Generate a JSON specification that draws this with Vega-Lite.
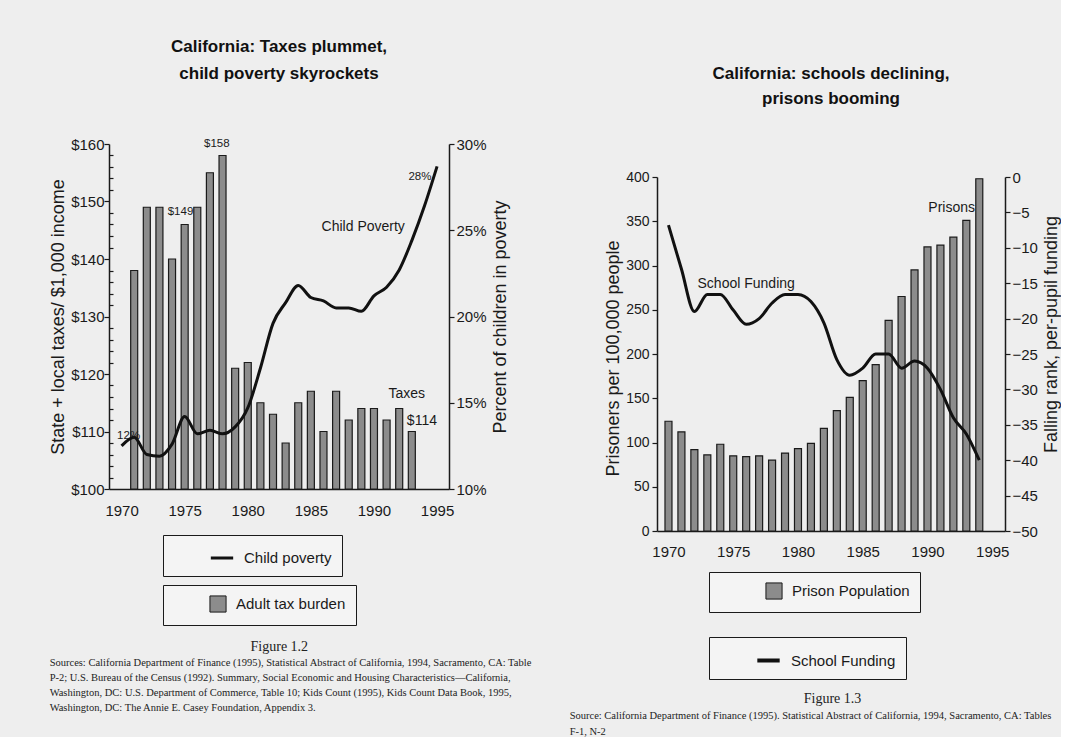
{
  "$schema": "https://vega.github.io/schema/vega-lite/v6.json",
  "background": "#eeeeee",
  "padding": {"left": 49, "top": 38, "right": 0, "bottom": 0},
  "datasets": {
    "tax": [
      {"year": 1971, "tax": 138}, {"year": 1972, "tax": 149}, {"year": 1973, "tax": 149}, {"year": 1974, "tax": 140},
      {"year": 1975, "tax": 146}, {"year": 1976, "tax": 149}, {"year": 1977, "tax": 155}, {"year": 1978, "tax": 158},
      {"year": 1979, "tax": 121}, {"year": 1980, "tax": 122}, {"year": 1981, "tax": 115}, {"year": 1982, "tax": 113},
      {"year": 1983, "tax": 108}, {"year": 1984, "tax": 115}, {"year": 1985, "tax": 117}, {"year": 1986, "tax": 110},
      {"year": 1987, "tax": 117}, {"year": 1988, "tax": 112}, {"year": 1989, "tax": 114}, {"year": 1990, "tax": 114},
      {"year": 1991, "tax": 112}, {"year": 1992, "tax": 114}, {"year": 1993, "tax": 110}
    ],
    "poverty": [
      {"year": 1970, "pct": 12.5}, {"year": 1971, "pct": 13.0}, {"year": 1972, "pct": 12.0}, {"year": 1973, "pct": 11.9},
      {"year": 1974, "pct": 12.6}, {"year": 1975, "pct": 14.2}, {"year": 1976, "pct": 13.2}, {"year": 1977, "pct": 13.4},
      {"year": 1978, "pct": 13.2}, {"year": 1979, "pct": 13.6}, {"year": 1980, "pct": 14.7}, {"year": 1981, "pct": 17.0},
      {"year": 1982, "pct": 19.6}, {"year": 1983, "pct": 20.8}, {"year": 1984, "pct": 21.8}, {"year": 1985, "pct": 21.1},
      {"year": 1986, "pct": 20.9}, {"year": 1987, "pct": 20.5}, {"year": 1988, "pct": 20.5}, {"year": 1989, "pct": 20.3},
      {"year": 1990, "pct": 21.2}, {"year": 1991, "pct": 21.7}, {"year": 1992, "pct": 22.7}, {"year": 1993, "pct": 24.4},
      {"year": 1994, "pct": 26.4}, {"year": 1995, "pct": 28.7}
    ],
    "leftSmall": [
      {"year": 1977.55, "value": 160.0, "label": "$158"},
      {"year": 1974.67, "value": 148.2, "label": "$149"},
      {"year": 1993.64, "value": 154.3, "label": "28%"},
      {"year": 1970.56, "value": 109.2, "label": "12%"}
    ],
    "leftBig": [
      {"year": 1989.15, "value": 145.6, "label": "Child Poverty"},
      {"year": 1992.6, "value": 116.5, "label": "Taxes"},
      {"year": 1993.8, "value": 111.9, "label": "$114"}
    ],
    "prison": [
      {"year": 1970, "rate": 124}, {"year": 1971, "rate": 112}, {"year": 1972, "rate": 92}, {"year": 1973, "rate": 86},
      {"year": 1974, "rate": 98}, {"year": 1975, "rate": 85}, {"year": 1976, "rate": 84}, {"year": 1977, "rate": 85},
      {"year": 1978, "rate": 80}, {"year": 1979, "rate": 88}, {"year": 1980, "rate": 93}, {"year": 1981, "rate": 99},
      {"year": 1982, "rate": 116}, {"year": 1983, "rate": 136}, {"year": 1984, "rate": 151}, {"year": 1985, "rate": 170},
      {"year": 1986, "rate": 188}, {"year": 1987, "rate": 238}, {"year": 1988, "rate": 265}, {"year": 1989, "rate": 295},
      {"year": 1990, "rate": 321}, {"year": 1991, "rate": 323}, {"year": 1992, "rate": 332}, {"year": 1993, "rate": 351},
      {"year": 1994, "rate": 398}
    ],
    "school": [
      {"year": 1970, "rank": -6.8}, {"year": 1971, "rank": -13}, {"year": 1972, "rank": -19}, {"year": 1973, "rank": -16.6},
      {"year": 1974, "rank": -16.6}, {"year": 1975, "rank": -18.8}, {"year": 1976, "rank": -20.8}, {"year": 1977, "rank": -20},
      {"year": 1978, "rank": -17.8}, {"year": 1979, "rank": -16.6}, {"year": 1980, "rank": -16.6}, {"year": 1981, "rank": -17.6},
      {"year": 1982, "rank": -20.6}, {"year": 1983, "rank": -25.8}, {"year": 1984, "rank": -28}, {"year": 1985, "rank": -27},
      {"year": 1986, "rank": -25}, {"year": 1987, "rank": -25}, {"year": 1988, "rank": -27}, {"year": 1989, "rank": -26},
      {"year": 1990, "rank": -27}, {"year": 1991, "rank": -30}, {"year": 1992, "rank": -34}, {"year": 1993, "rank": -36.3},
      {"year": 1994, "rank": -40}
    ],
    "rightNotes": [
      {"year": 1976.0, "value": 279, "label": "School Funding"},
      {"year": 1991.87, "value": 365, "label": "Prisons"}
    ]
  },
  "config": {
    "view": {"stroke": null},
    "font": "Liberation Sans, sans-serif",
    "axis": {
      "grid": false,
      "domainColor": "#1a1a1a", "domainWidth": 1.5,
      "tickColor": "#1a1a1a", "tickWidth": 1.2,
      "labelColor": "#1a1a1a", "labelFont": "Liberation Sans, sans-serif", "labelFontSize": 15,
      "titleColor": "#1a1a1a", "titleFont": "Liberation Sans, sans-serif", "titleFontSize": 18, "titleFontWeight": "normal"
    },
    "legend": {
      "fillColor": "#f4f4f4", "strokeColor": "#1a1a1a", "padding": 10,
      "labelFont": "Liberation Sans, sans-serif", "labelFontSize": 15, "labelColor": "#1a1a1a",
      "labelOffset": 9, "symbolOffset": 36
    },
    "title": {
      "font": "Liberation Sans, sans-serif", "fontSize": 17, "fontWeight": "bold",
      "color": "#111111", "lineHeight": 27, "anchor": "middle"
    }
  },
  "columns": 2,
  "spacing": 36,
  "resolve": {"scale": {"fill": "independent", "stroke": "independent"}},
  "concat": [
    {
      "title": {
        "text": [
          "Sources: California Department of Finance (1995), Statistical Abstract of California, 1994, Sacramento, CA: Table",
          "P-2; U.S. Bureau of the Census (1992). Summary, Social Economic and Housing Characteristics\u2014California,",
          "Washington, DC: U.S. Department of Commerce, Table 10; Kids Count (1995), Kids Count Data Book, 1995,",
          "Washington, DC: The Annie E. Casey Foundation, Appendix 3."
        ],
        "orient": "bottom", "anchor": "start", "font": "Liberation Serif, serif", "fontSize": 10.5,
        "fontWeight": "normal", "lineHeight": 15, "offset": 4, "color": "#222222"
      },
      "resolve": {"scale": {"fill": "independent", "stroke": "independent"}},
      "vconcat": [
        {
          "title": {"text": "Figure 1.2", "orient": "bottom", "anchor": "middle", "font": "Liberation Serif, serif", "fontSize": 14, "fontWeight": "normal", "offset": 14, "color": "#222222"},
          "resolve": {"scale": {"fill": "independent", "stroke": "independent"}},
          "vconcat": [
            {
              "width": 340,
              "height": 345,
              "title": {"text": ["California: Taxes plummet,", "child poverty skyrockets"], "offset": 54},
              "encoding": {
                "x": {
                  "field": "year", "type": "quantitative",
                  "scale": {"domain": [1969.4, 1995.55], "nice": false, "zero": false},
                  "axis": {"values": [1970, 1975, 1980, 1985, 1990, 1995], "format": "d", "title": null, "ticks": false, "labelPadding": 14, "labelFontSize": 15, "labelFlush": false}
                }
              },
              "layer": [
                {
                  "data": {"name": "tax"},
                  "mark": {"type": "bar", "size": 7, "stroke": "#1a1a1a", "strokeWidth": 1.2},
                  "encoding": {
                    "y": {
                      "field": "tax", "type": "quantitative",
                      "scale": {"domain": [100, 160], "nice": false, "zero": false},
                      "axis": {
                        "title": "State + local taxes/ $1,000 income",
                        "values": [100, 102, 104, 106, 108, 110, 112, 114, 116, 118, 120, 122, 124, 126, 128, 130, 132, 134, 136, 138, 140, 142, 144, 146, 148, 150, 152, 154, 156, 158, 160],
                        "labelExpr": "datum.value % 10 === 0 ? '$' + datum.value : ''",
                        "tickSize": {"condition": {"test": "datum.value % 10 === 0", "value": 5}, "value": -4},
                        "labelPadding": 0, "titlePadding": 3, "labelOverlap": false
                      }
                    },
                    "y2": {"datum": 100},
                    "fill": {
                      "datum": "Adult tax burden", "type": "nominal",
                      "scale": {"range": ["#8c8c8c"]},
                      "legend": {"title": null, "orient": "none", "legendX": 54, "legendY": 441, "symbolType": "square", "symbolSize": 260, "symbolStrokeColor": "#1a1a1a", "symbolStrokeWidth": 1}
                    }
                  }
                },
                {
                  "data": {"name": "poverty"},
                  "mark": {"type": "line", "strokeWidth": 3, "interpolate": "monotone"},
                  "encoding": {
                    "y": {
                      "field": "pct", "type": "quantitative",
                      "scale": {"domain": [10, 30], "nice": false, "zero": false},
                      "axis": {"orient": "right", "title": "Percent of children in poverty", "titleAngle": 270, "titleBaseline": "top", "values": [10, 15, 20, 25, 30], "labelExpr": "datum.value + '%'", "tickSize": 5, "labelPadding": 2, "titlePadding": 5}
                    },
                    "stroke": {
                      "datum": "Child poverty", "type": "nominal",
                      "scale": {"range": ["#111111"]},
                      "legend": {"title": null, "orient": "none", "legendX": 54, "legendY": 391, "symbolType": "stroke", "symbolSize": 500, "symbolStrokeWidth": 3}
                    }
                  }
                },
                {
                  "data": {"name": "leftSmall"},
                  "mark": {"type": "text", "fontSize": 11.5, "color": "#1a1a1a"},
                  "encoding": {
                    "y": {"field": "value", "type": "quantitative", "scale": {"domain": [100, 160], "nice": false, "zero": false}, "axis": null},
                    "text": {"field": "label"}
                  }
                },
                {
                  "data": {"name": "leftBig"},
                  "mark": {"type": "text", "fontSize": 14, "color": "#1a1a1a"},
                  "encoding": {
                    "y": {"field": "value", "type": "quantitative", "scale": {"domain": [100, 160], "nice": false, "zero": false}, "axis": null},
                    "text": {"field": "label"}
                  }
                }
              ],
              "resolve": {"scale": {"y": "independent"}}
            }
          ]
        }
      ]
    },
    {
      "title": {
        "text": [
          "Source: California Department of Finance (1995). Statistical Abstract of California, 1994, Sacramento, CA: Tables",
          "F-1, N-2"
        ],
        "orient": "bottom", "anchor": "start", "font": "Liberation Serif, serif", "fontSize": 10.5,
        "fontWeight": "normal", "lineHeight": 16, "offset": 5, "color": "#222222", "dx": -35
      },
      "resolve": {"scale": {"fill": "independent", "stroke": "independent"}},
      "vconcat": [
        {
          "title": {"text": "Figure 1.3", "orient": "bottom", "anchor": "middle", "font": "Liberation Serif, serif", "fontSize": 14, "fontWeight": "normal", "offset": 12, "color": "#222222"},
          "resolve": {"scale": {"fill": "independent", "stroke": "independent"}},
          "vconcat": [
            {
              "width": 348,
              "height": 387,
              "title": {"text": ["California: schools declining,", "prisons booming"], "offset": 36, "lineHeight": 25},
              "encoding": {
                "x": {
                  "field": "year", "type": "quantitative",
                  "scale": {"domain": [1969.5, 1995.6], "nice": false, "zero": false},
                  "axis": {"values": [1970, 1975, 1980, 1985, 1990, 1995], "format": "d", "title": null, "ticks": false, "labelPadding": 13, "labelFontSize": 15, "labelFlush": false}
                }
              },
              "layer": [
                {
                  "data": {"name": "prison"},
                  "mark": {"type": "bar", "size": 7, "stroke": "#1a1a1a", "strokeWidth": 1.2},
                  "encoding": {
                    "y": {
                      "field": "rate", "type": "quantitative",
                      "scale": {"domain": [0, 400], "nice": false, "range": [387, 33]},
                      "axis": {"title": "Prisoners per 100,000 people", "values": [0, 50, 100, 150, 200, 250, 300, 350, 400], "tickSize": 5, "labelPadding": 3, "titlePadding": 3, "labelFontSize": 14, "titleY": 214}
                    },
                    "fill": {
                      "datum": "Prison Population", "type": "nominal",
                      "scale": {"range": ["#8c8c8c"]},
                      "legend": {"title": null, "orient": "none", "legendX": 52, "legendY": 428, "symbolType": "square", "symbolSize": 260, "symbolStrokeColor": "#1a1a1a", "symbolStrokeWidth": 1, "symbolOffset": 46}
                    }
                  }
                },
                {
                  "data": {"name": "school"},
                  "mark": {"type": "line", "strokeWidth": 3, "interpolate": "monotone"},
                  "encoding": {
                    "y": {
                      "field": "rank", "type": "quantitative",
                      "scale": {"domain": [-50, 0], "nice": false, "zero": false, "range": [387, 33]},
                      "axis": {"orient": "right", "title": "Falling rank, per-pupil funding", "titleAngle": 270, "titleBaseline": "top", "values": [0, -5, -10, -15, -20, -25, -30, -35, -40, -45, -50], "tickSize": 5, "labelPadding": 2, "titlePadding": 5, "titleY": 190}
                    },
                    "stroke": {
                      "datum": "School Funding", "type": "nominal",
                      "scale": {"range": ["#111111"]},
                      "legend": {"title": null, "orient": "none", "legendX": 52, "legendY": 493, "symbolType": "stroke", "symbolSize": 500, "symbolStrokeWidth": 4}
                    }
                  }
                },
                {
                  "data": {"name": "rightNotes"},
                  "mark": {"type": "text", "fontSize": 14, "color": "#1a1a1a"},
                  "encoding": {
                    "y": {"field": "value", "type": "quantitative", "scale": {"domain": [0, 400], "nice": false, "range": [387, 33]}, "axis": null},
                    "text": {"field": "label"}
                  }
                }
              ],
              "resolve": {"scale": {"y": "independent"}}
            }
          ]
        }
      ]
    }
  ]
}
